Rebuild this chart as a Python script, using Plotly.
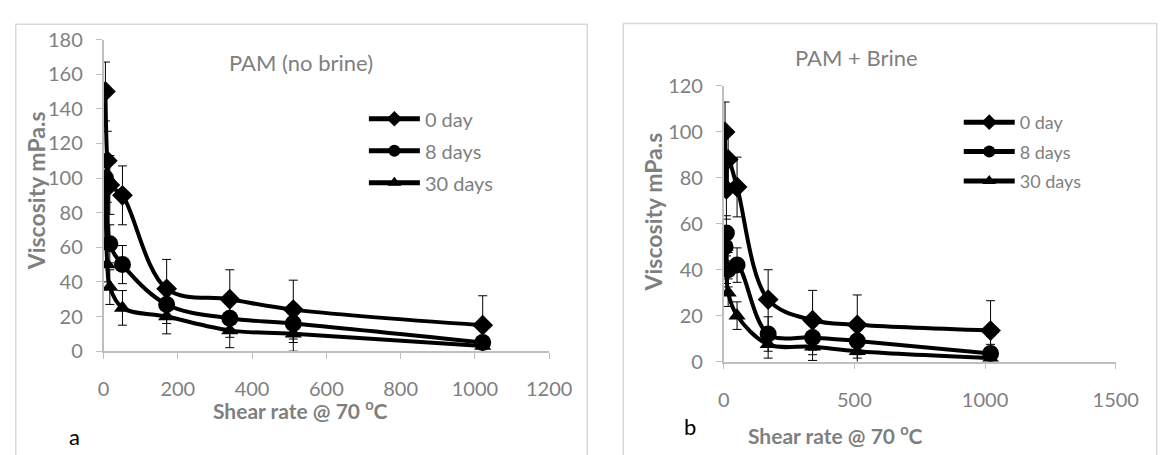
import plotly.graph_objects as go

# Shear rates (1/s) at which viscosity was measured
shear_rate = [5.1, 10.2, 17, 51, 170, 340, 511, 1021]
series_names = ["0 day", "8 days", "30 days"]

# Panel a: PAM without brine, viscosity in mPa.s
pam_day0 = [150, 110, 96, 90, 36, 30, 24, 15]
pam_day8 = [100, 97, 62, 50, 27, 19, 16, 5]
pam_day30 = [100, 50, 37, 25, 20, 12, 10, 3]
pam_err = [17, 11, 10]

# Panel b: PAM with brine, viscosity in mPa.s
brine_day0 = [100, 75, 88, 76, 27, 18, 16, 13.5]
brine_day8 = [50, 56, 40, 42, 12, 10.5, 9, 3.5]
brine_day30 = [50, 40, 30, 20, 7.5, 6.5, 4.5, 1.5]
brine_err = [13, 7.5, 6]

W, H = 1168, 455
FONT = "Lato"
GREY = "#7f7f7f"
symbols = ["diamond", "circle", "triangle-up"]
sizes = [16, 17, 15]


def px(x):
    return x / W


def py(y):
    return 1 - y / H


fig = go.Figure()

panels = [
    ([pam_day0, pam_day8, pam_day30], pam_err, "x", "y", "legend"),
    ([brine_day0, brine_day8, brine_day30], brine_err, "x2", "y2", "legend2"),
]
for values, errs, xa, ya, lg in panels:
    for name, vals, err, sym, sz in zip(series_names, values, errs, symbols, sizes):
        fig.add_trace(go.Scatter(
            x=shear_rate, y=vals, name=name, mode="lines+markers",
            xaxis=xa, yaxis=ya, legend=lg, legendgroup=lg + name,
            line=dict(color="black", width=4, shape="spline", smoothing=1),
            marker=dict(symbol=sym, size=sz, color="black"),
            error_y=dict(type="constant", value=err, color="black",
                         thickness=1, width=4.5),
        ))

axis_common = dict(
    showgrid=False, zeroline=False, showline=True, linecolor="#bfbfbf",
    linewidth=1.5, ticks="outside", tickcolor="#bfbfbf", ticklen=6,
    tickfont=dict(family=FONT, size=20, color=GREY),
)

fig.update_layout(
    width=W, height=H, margin=dict(l=0, r=0, t=0, b=0),
    paper_bgcolor="white", plot_bgcolor="white",
    font=dict(family=FONT, color=GREY),
    xaxis=dict(domain=[px(100), px(557)], range=[0, 1200], dtick=200,
               anchor="y", ticklabelstandoff=13, **axis_common),
    yaxis=dict(domain=[py(357), py(28)], range=[0, 180], dtick=20,
               anchor="x", ticklabelstandoff=9, **axis_common),
    xaxis2=dict(domain=[px(736), px(1138)], range=[0, 1500], dtick=500,
                anchor="y2", ticklabelstandoff=14, **axis_common),
    yaxis2=dict(domain=[py(368), py(77)], range=[0, 120], dtick=20,
                anchor="x2", ticklabelstandoff=9, **axis_common),
    legend=dict(x=px(367), y=py(91), xanchor="left", yanchor="top",
                bgcolor="rgba(0,0,0,0)", itemwidth=51, tracegroupgap=3,
                itemsizing="constant",
                font=dict(family=FONT, size=20, color=GREY)),
    legend2=dict(x=px(977), y=py(96), xanchor="left", yanchor="top",
                 bgcolor="rgba(0,0,0,0)", itemwidth=51, tracegroupgap=3,
                 itemsizing="constant",
                 font=dict(family=FONT, size=18, color=GREY)),
    showlegend=True,
)

# Chart frames
fig.add_shape(type="rect", xref="paper", yref="paper",
              x0=px(10), x1=px(596), y0=py(470), y1=py(12),
              line=dict(color="#d9d9d9", width=1.5))
fig.add_shape(type="rect", xref="paper", yref="paper",
              x0=px(633), x1=px(1180), y0=py(470), y1=py(11),
              line=dict(color="#d9d9d9", width=1.5))

annotations = [
    dict(text="PAM (no brine)", x=px(302), y=py(52), size=22, color=GREY),
    dict(text="PAM + Brine", x=px(872), y=py(47), size=22, color=GREY),
    dict(text="<b>Shear rate @ 70 <sup>o</sup>C</b>", x=px(302), y=py(418), size=21, color=GREY),
    dict(text="<b>Shear rate @ 70 <sup>o</sup>C</b>", x=px(851), y=py(444), size=21, color=GREY),
    dict(text="a", x=px(70), y=py(447), size=22, color="black"),
    dict(text="b", x=px(701), y=py(437), size=22, color="black"),
]
for a in annotations:
    fig.add_annotation(text=a["text"], x=a["x"], y=a["y"], xref="paper", yref="paper",
                       showarrow=False, xanchor="center", yanchor="middle",
                       font=dict(family=FONT, size=a["size"], color=a["color"]))

for txt, x, y in [("<b>Viscosity mPa.s</b>", 31, 188), ("<b>Viscosity mPa.s</b>", 663, 210)]:
    fig.add_annotation(text=txt, x=px(x), y=py(y), xref="paper", yref="paper",
                       showarrow=False, textangle=-90, xanchor="center", yanchor="middle",
                       font=dict(family=FONT, size=23, color=GREY))

fig.write_html("out.html")
